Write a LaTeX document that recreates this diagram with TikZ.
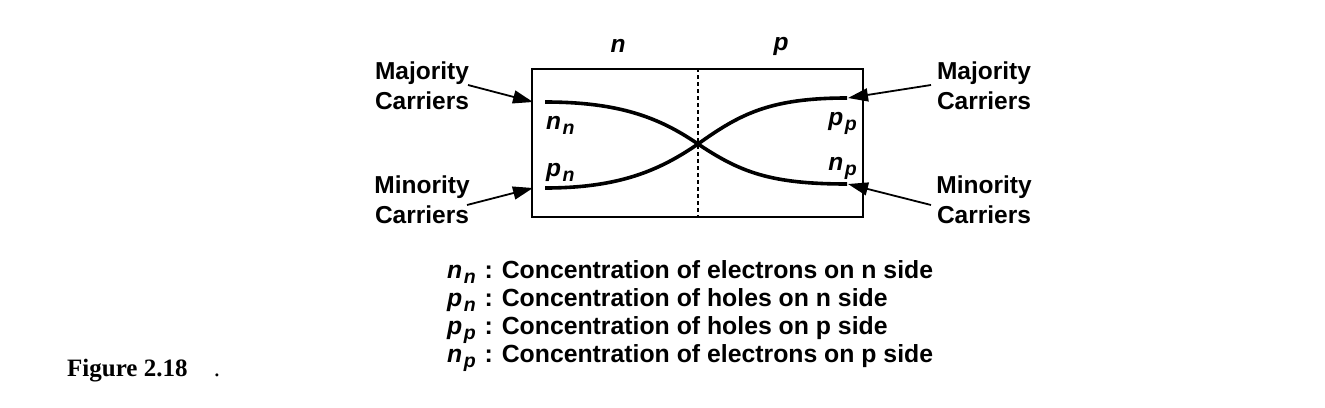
\documentclass[tikz,border=0pt]{standalone}
\usepackage{fontspec}
\setmainfont{Liberation Sans}
\newfontfamily\serifbf{Liberation Serif}
\usetikzlibrary{arrows.meta}
\frenchspacing
\newcommand{\lowsub}[1]{\kern1.5pt\raisebox{-5pt}{\fontsize{19.5}{19.5}\selectfont\bfseries\itshape #1}}
\begin{document}
\begin{tikzpicture}[x=1pt,y=-1pt,
  lbl/.style={font=\fontsize{24.5}{30}\selectfont\bfseries, align=center, inner sep=0pt},
  sym/.style={font=\fontsize{24.5}{25}\selectfont\bfseries\itshape, inner sep=0pt},
  curve/.style={line width=3.6pt},
  ptr/.style={line width=1.8pt, -{Triangle[length=20pt,width=13pt]}},
  legend/.style={font=\fontsize{24.8}{28}\selectfont\bfseries, anchor=base west, inner sep=0pt}]
\useasboundingbox (0,0) rectangle (1325,407);
% box
\node[draw, line width=1.4pt, minimum width=331pt, minimum height=148pt, inner sep=0pt] (box) at (697.5,143) {};
\draw[dashed, line width=1.3pt, dash pattern=on 4pt off 3pt] (box.north -| 698,0) -- (box.south -| 698,0);
% region labels
\node[sym] (nreg) at (618,46) {n};
\node[sym] (preg) at (781,46) {p};
% curve endpoints
\coordinate (nnL) at (545,102);
\coordinate (pnL) at (545,188);
\coordinate (ppR) at (847,98);
\coordinate (npR) at (847,184);
\coordinate (X) at (698,144);
\draw[curve] (nnL) .. controls (620,102) and (660,118) .. (X) .. controls (740,172) and (770,184) .. (npR);
\draw[curve] (pnL) .. controls (620,188) and (660,170) .. (X) .. controls (740,114) and (770,98) .. (ppR);
% curve labels
\node[sym, anchor=base west] (nn) at (546,129) {n\lowsub{n}};
\node[sym, anchor=base west] (pn) at (546,176) {p\lowsub{n}};
\node[sym, anchor=base east] (pp) at (857,125) {p\lowsub{p}};
\node[sym, anchor=base east] (np) at (857,170) {n\lowsub{p}};
% side labels
\node[lbl] (majL) at (422,86) {Majority\\Carriers};
\node[lbl] (minL) at (422,200) {Minority\\Carriers};
\node[lbl] (majR) at (984,86) {Majority\\Carriers};
\node[lbl] (minR) at (984,200) {Minority\\Carriers};
\coordinate (aML) at (468,85);
\coordinate (aNL) at (467,205);
\coordinate (aMR) at (931,85);
\coordinate (aNR) at (931,205);
\draw[ptr] (aML) -- (533,102);
\draw[ptr] (aNL) -- (533,188);
\draw[ptr] (aMR) -- (848,98);
\draw[ptr] (aNR) -- (848,184);
% legend
\node[legend] (l1) at (447,278) {\textit{n}\lowsub{n}\kern2pt{} :\kern2pt{} Concentration of electrons on n side};
\node[legend] (l2) at (447,306) {\textit{p}\lowsub{n}\kern2pt{} :\kern2pt{} Concentration of holes on n side};
\node[legend] (l3) at (447,334) {\textit{p}\lowsub{p}\kern2pt{} :\kern2pt{} Concentration of holes on p side};
\node[legend] (l4) at (447,362) {\textit{n}\lowsub{p}\kern2pt{} :\kern2pt{} Concentration of electrons on p side};
% figure caption
\node[font=\fontsize{25}{28}\selectfont\serifbf\bfseries, anchor=base west, inner sep=0pt] (fig) at (67,376) {Figure 2.18};
\node[font=\fontsize{25}{28}\selectfont\serifbf, anchor=base, inner sep=0pt] (dot) at (217,376) {.};
\end{tikzpicture}
\end{document}
